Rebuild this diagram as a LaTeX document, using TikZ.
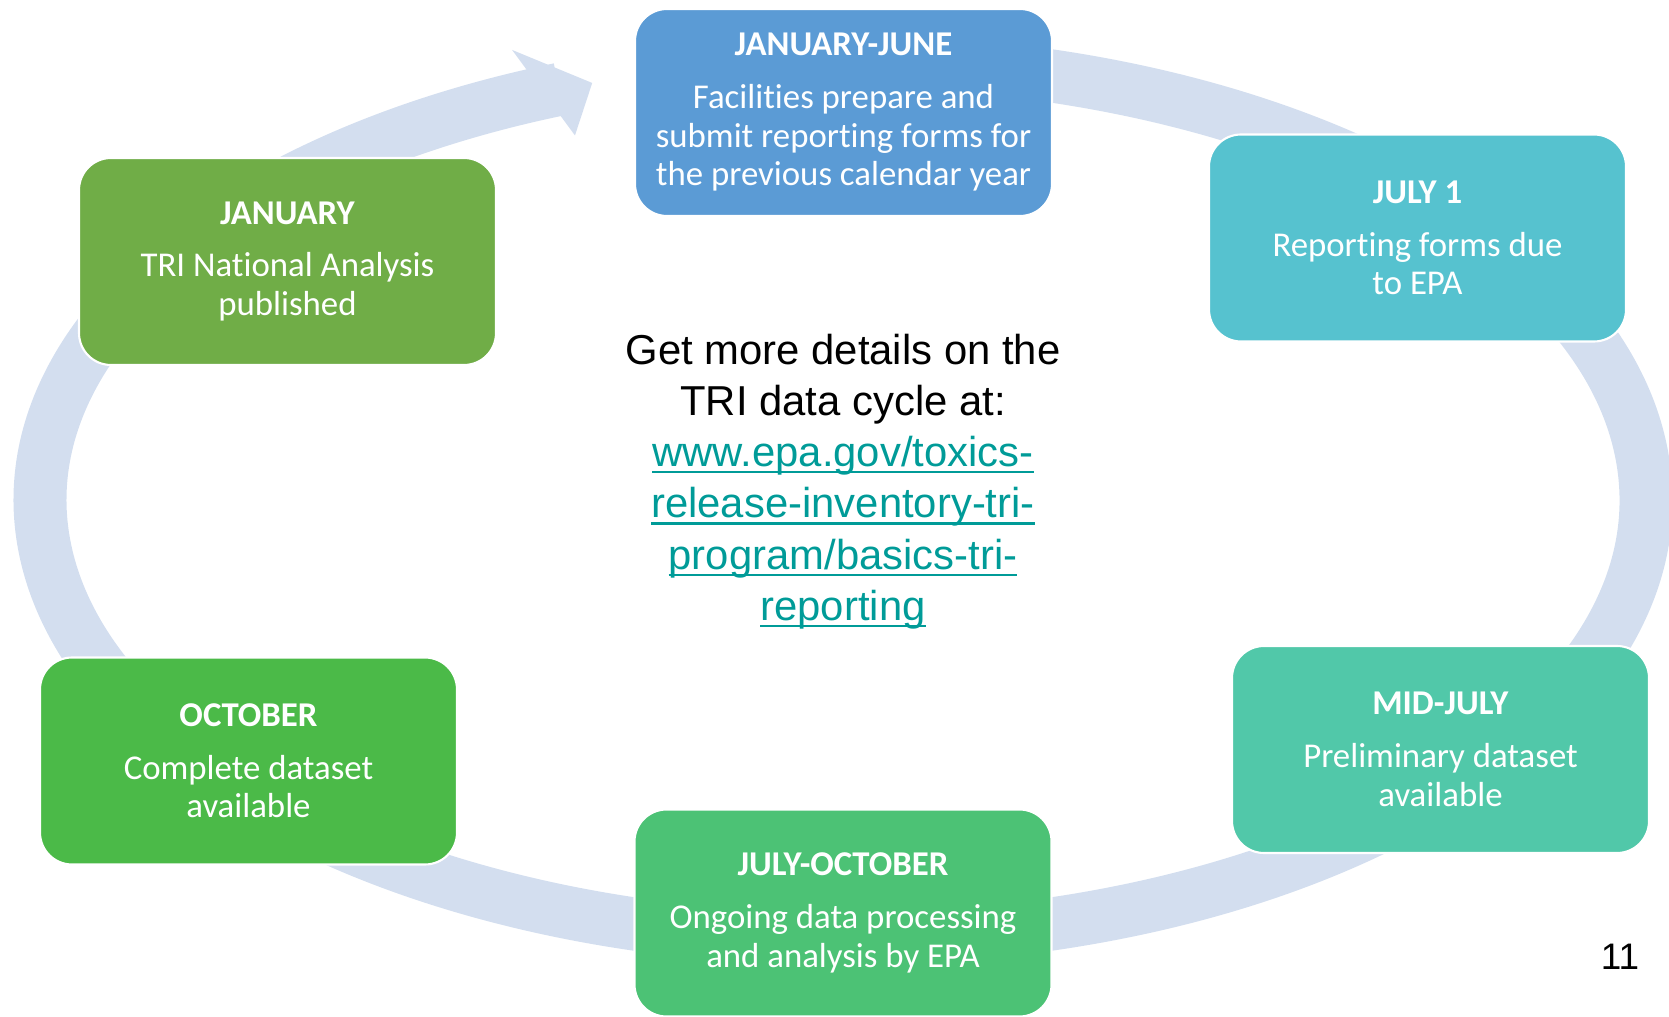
\documentclass[tikz,border=0pt]{standalone}
\usepackage{fontspec}
\setmainfont{Carlito}[Ligatures=NoCommon]
\newfontfamily\arialfont{Liberation Sans}
\usepackage{xcolor}
\usetikzlibrary{arrows.meta,positioning,calc}

\definecolor{ringblue}{HTML}{D3DEEF}
\definecolor{jjblue}{HTML}{5B9BD5}
\definecolor{julycyan}{HTML}{56C2CF}
\definecolor{midmint}{HTML}{51C8A9}
\definecolor{jogreen}{HTML}{4CC275}
\definecolor{octgreen}{HTML}{4BBA48}
\definecolor{jangreen}{HTML}{70AD47}
\definecolor{linkteal}{HTML}{009B98}

\newsavebox\linkbox
\newcommand{\ulink}[1]{\sbox\linkbox{\color{linkteal}#1}\rlap{\color{linkteal}\rule[-1.9pt]{\wd\linkbox}{0.6pt}}\usebox\linkbox}

\begin{document}
\begin{tikzpicture}[
    phase/.style={rectangle, draw=white, line width=0.6pt, rounded corners=0.32cm, minimum width=4.17cm, minimum height=2.07cm, text=white, align=center, font=\fontsize{9.9pt}{11pt}\selectfont},
    ring/.style={draw=ringblue, line width=0.53cm}
]
\useasboundingbox (0,0) rectangle (16.69,10.16);

% cycle band behind the boxes
\coordinate (ctr) at (8.43,5.16);
\coordinate (headbase) at ($(ctr)+(111.9:8.03cm and 4.39cm)$);
\coordinate (tip) at ($(ctr)+(108.2:8.03cm and 4.39cm)$);
\draw[ring] (ctr) ++(95:8.03cm and 4.39cm) arc[start angle=95, end angle=-249.3, x radius=8.03, y radius=4.39];
\fill[ringblue] ($(ctr)!1.105!(headbase)$) -- (tip) -- ($(ctr)!0.895!(headbase)$) -- cycle;

% phases
\node[phase, fill=jjblue] (janjun) at (8.435,9.035) {\textbf{JANUARY-JUNE}\\[4pt]Facilities prepare and\\submit reporting forms for\\the previous calendar year};
\node[phase, fill=julycyan] (july1) at (14.175,7.78) {\textbf{JULY 1}\\[4pt]Reporting forms due\\to EPA};
\node[phase, fill=midmint] (midjuly) at (14.405,2.665) {\textbf{MID-JULY}\\[4pt]Preliminary dataset\\available};
\node[phase, fill=jogreen] (julyoct) at (8.43,1.03) {\textbf{JULY-OCTOBER}\\[4pt]Ongoing data processing\\and analysis by EPA};
\node[phase, fill=octgreen] (october) at (2.485,2.55) {\textbf{OCTOBER}\\[4pt]Complete dataset\\available};
\node[phase, fill=jangreen] (january) at (2.875,7.545) {\textbf{JANUARY}\\[4pt]TRI National Analysis\\published};

% centre text
\node[align=center, font=\arialfont\fontsize{11.9pt}{14.56pt}\selectfont] (details) at (8.43,5.345) {Get more details on the\\TRI data cycle at:\\\ulink{www.epa.gov/toxics-}\\\ulink{release-inventory-tri-}\\\ulink{program/basics-tri-}\\\ulink{reporting}};

\node[font=\arialfont\fontsize{10.5pt}{12pt}\selectfont] (pagenum) at (16.20,0.595) {11};
\end{tikzpicture}
\end{document}
